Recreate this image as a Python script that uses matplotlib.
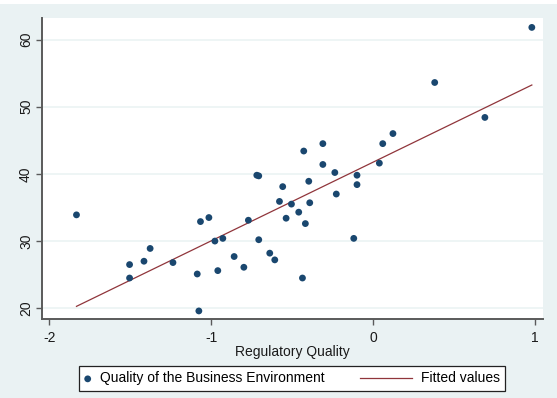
import numpy as np
import matplotlib
matplotlib.use("Agg")
import matplotlib.pyplot as plt
from matplotlib.legend_handler import HandlerLine2D
from matplotlib.patches import Rectangle

plt.rcParams["font.family"] = ["Liberation Sans", "DejaVu Sans"]
plt.rcParams["axes.unicode_minus"] = False

# regulatory quality index vs. business environment score, one point per country
reg_quality = [-1.832, -1.504, -1.504, -1.415, -1.377, -1.236, -1.066, -1.014,
               -0.977, -1.086, -0.959, -1.076, -0.428, -0.718, -0.706, -0.558,
               -0.578, -0.504, -0.391, -0.459, -0.537, -0.418, -0.770, -0.928,
               -0.706, -0.858, -0.638, -0.607, -0.798, -0.436, 0.123, 0.060,
               -0.310, -0.310, 0.039, -0.236, -0.099, -0.099, -0.397, -0.227,
               -0.119, 0.981, 0.381, 0.691]
business_env = [33.9, 26.5, 24.5, 27.0, 28.9, 26.8, 32.9, 33.5,
                30.0, 25.1, 25.6, 19.6, 43.4, 39.8, 39.7, 38.1,
                35.9, 35.5, 35.7, 34.3, 33.4, 32.6, 33.1, 30.4,
                30.2, 27.7, 28.2, 27.2, 26.1, 24.5, 46.0, 44.5,
                44.5, 41.4, 41.6, 40.2, 39.8, 38.4, 38.9, 37.0,
                30.4, 61.8, 53.6, 48.4]

x_ticks = [-2, -1, 0, 1]
y_ticks = [20, 30, 40, 50, 60]

navy = "#1a476f"
maroon = "#90353b"
bg = "#eaf2f3"
axis_grey = "#5a5a5a"


class LongLineHandler(HandlerLine2D):
    # line sample that reaches left of its (short) handle box
    def get_xdata(self, legend, xdescent, ydescent, width, height, fontsize):
        right = -xdescent + width
        xdata = [right - 3.75 * fontsize, right]
        return xdata, [right]


fig = plt.figure(figsize=(5.57, 3.98), dpi=100, facecolor=bg)
fig.patches.append(Rectangle((0, 0.99), 1, 0.01, transform=fig.transFigure,
                             facecolor="white", edgecolor="none", zorder=-1))
ax = fig.add_axes([42 / 557, 79 / 398, 501 / 557, 301 / 398])
ax.set_facecolor("white")

x = np.array(reg_quality)
y = np.array(business_env)
slope, intercept = np.polyfit(x, y, 1)
xs = np.array([x.min(), x.max()])

pts = ax.scatter(x, y, s=24, color=navy, edgecolors="none", zorder=3,
                 label="Quality of the Business Environment")
fit, = ax.plot(xs, intercept + slope * xs, color=maroon, lw=0.9, zorder=2,
               label="Fitted values")

ax.set_xlim(-2.045, 1.05)
ax.set_ylim(18.4, 63.2)
ax.set_xticks(x_ticks)
ax.set_yticks(y_ticks)
ax.set_yticklabels([str(v) for v in y_ticks], rotation=90, va="center")
ax.grid(axis="y", color=bg, lw=1.1)
ax.set_axisbelow(True)

for side in ["top", "right"]:
    ax.spines[side].set_visible(False)
for side in ["left", "bottom"]:
    ax.spines[side].set_color(axis_grey)
    ax.spines[side].set_linewidth(1.4)
ax.tick_params(axis="both", direction="out", length=4.5, width=1.0,
               color=axis_grey, labelsize=10, labelcolor="#1a1a1a")
ax.tick_params(axis="x", pad=4.5)
ax.tick_params(axis="y", pad=2)

ax.set_xlabel("Regulatory Quality", fontsize=10, color="#1a1a1a", labelpad=-0.5)

leg = fig.legend(handles=[pts, fit], loc="center", bbox_to_anchor=(0.524, 0.049),
                 ncol=2, fontsize=10, frameon=True, fancybox=False,
                 edgecolor="#222222", framealpha=1, scatterpoints=1,
                 handlelength=0.5, handletextpad=0.62, borderpad=0.4,
                 columnspacing=5.8, handler_map={fit: LongLineHandler()})
leg.get_frame().set_linewidth(0.9)

fig.savefig("out.png", dpi=100, facecolor=bg)
